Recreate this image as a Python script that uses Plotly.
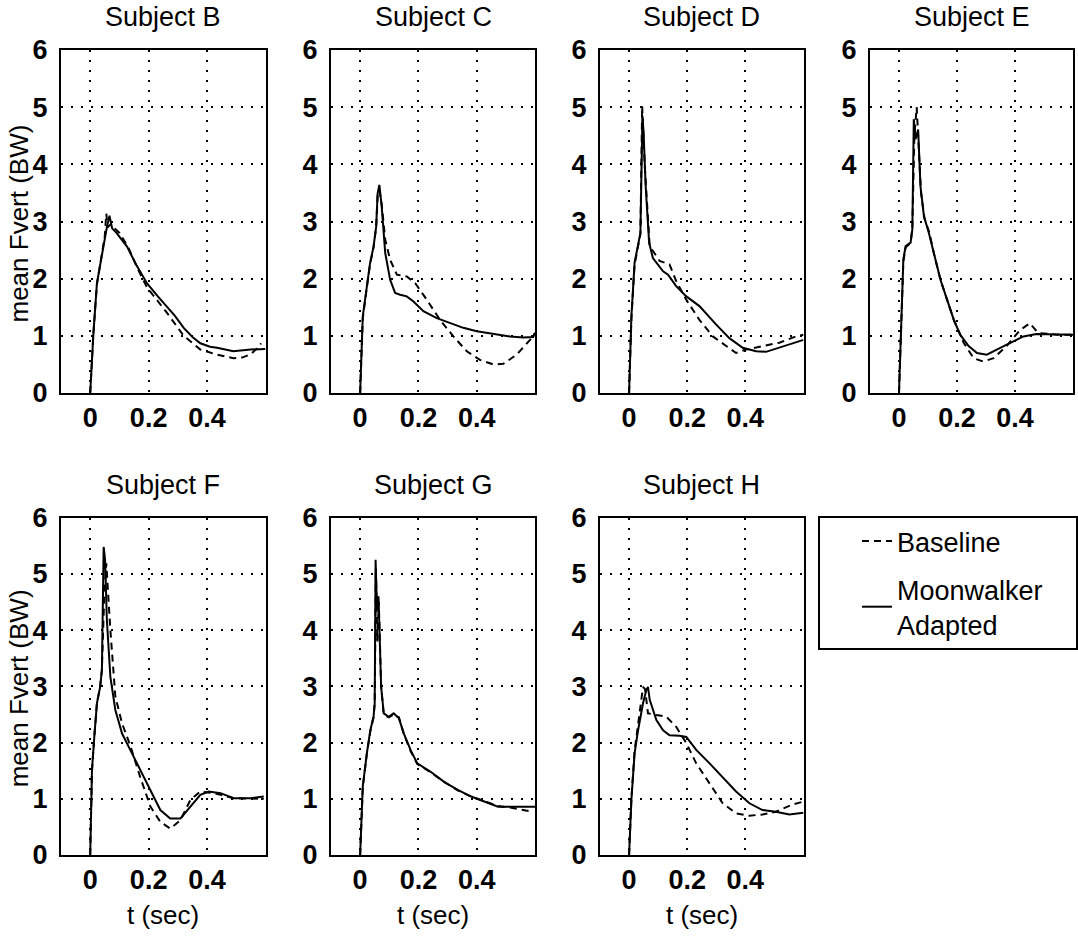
import plotly.graph_objects as go

# ---------------- data ----------------
subjects = ["B", "C", "D", "E", "F", "G", "H"]
x_ticks = [0, 0.2, 0.4]
x_ticktext = ["0", "0.2", "0.4"]
y_ticks = [0, 1, 2, 3, 4, 5, 6]

B_moon_t = [0, 0.011, 0.023, 0.04, 0.057, 0.066, 0.075, 0.09, 0.126, 0.16, 0.194, 0.23, 0.263, 0.29, 0.32, 0.35, 0.377, 0.41, 0.434, 0.49, 0.549, 0.6]
B_moon_y = [0, 1.05, 1.92, 2.45, 2.9, 3.1, 2.88, 2.8, 2.56, 2.22, 1.92, 1.7, 1.51, 1.35, 1.14, 0.98, 0.87, 0.81, 0.79, 0.73, 0.76, 0.77]
B_base_t = [0, 0.011, 0.023, 0.04, 0.05, 0.055, 0.06, 0.07, 0.1, 0.13, 0.16, 0.194, 0.23, 0.263, 0.32, 0.377, 0.434, 0.49, 0.52, 0.55, 0.571, 0.585]
B_base_y = [0, 1.05, 1.9, 2.4, 2.75, 3.14, 2.9, 2.95, 2.8, 2.55, 2.2, 1.85, 1.62, 1.4, 1.0, 0.76, 0.67, 0.61, 0.62, 0.68, 0.78, 0.87]

C_moon_t = [0, 0.009, 0.023, 0.034, 0.046, 0.055, 0.06, 0.066, 0.074, 0.086, 0.103, 0.12, 0.137, 0.16, 0.183, 0.217, 0.263, 0.309, 0.354, 0.4, 0.469, 0.514, 0.56, 0.594, 0.6]
C_moon_y = [0, 1.34, 1.86, 2.27, 2.56, 2.91, 3.49, 3.64, 3.26, 2.45, 1.98, 1.75, 1.72, 1.69, 1.6, 1.43, 1.31, 1.22, 1.14, 1.08, 1.02, 0.99, 0.97, 0.98, 1.05]
C_base_t = [0, 0.009, 0.023, 0.034, 0.046, 0.055, 0.06, 0.066, 0.074, 0.086, 0.103, 0.126, 0.16, 0.189, 0.229, 0.274, 0.32, 0.366, 0.411, 0.457, 0.491, 0.537, 0.583, 0.6]
C_base_y = [0, 1.3, 1.85, 2.25, 2.55, 2.9, 3.45, 3.55, 3.3, 2.68, 2.33, 2.07, 2.04, 1.92, 1.63, 1.28, 0.99, 0.73, 0.58, 0.5, 0.51, 0.67, 0.93, 1.05]

D_moon_t = [0, 0.008, 0.019, 0.031, 0.039, 0.046, 0.05, 0.057, 0.069, 0.082, 0.099, 0.117, 0.134, 0.162, 0.197, 0.242, 0.299, 0.345, 0.391, 0.437, 0.471, 0.517, 0.574, 0.6]
D_moon_y = [0, 1.34, 2.28, 2.57, 2.8, 4.85, 4.55, 3.62, 2.63, 2.36, 2.25, 2.13, 2.07, 1.87, 1.69, 1.52, 1.2, 0.96, 0.79, 0.73, 0.72, 0.79, 0.88, 0.93]
D_base_t = [0, 0.008, 0.019, 0.031, 0.039, 0.045, 0.054, 0.071, 0.105, 0.139, 0.162, 0.197, 0.242, 0.288, 0.334, 0.368, 0.402, 0.459, 0.517, 0.574, 0.6]
D_base_y = [0, 1.3, 2.25, 2.55, 2.78, 5.02, 3.97, 2.57, 2.31, 2.25, 1.96, 1.63, 1.28, 0.99, 0.82, 0.7, 0.76, 0.82, 0.88, 0.99, 1.02]

E_moon_t = [0, 0.006, 0.015, 0.023, 0.04, 0.046, 0.051, 0.057, 0.066, 0.074, 0.086, 0.103, 0.12, 0.143, 0.166, 0.189, 0.211, 0.24, 0.269, 0.303, 0.337, 0.383, 0.429, 0.474, 0.543, 0.6]
E_moon_y = [0, 1.05, 2.34, 2.57, 2.63, 2.86, 4.79, 4.44, 4.61, 3.62, 3.09, 2.8, 2.45, 1.98, 1.63, 1.28, 1.02, 0.82, 0.7, 0.67, 0.76, 0.88, 0.99, 1.03, 1.02, 1.02]
E_base_t = [0, 0.006, 0.015, 0.023, 0.04, 0.046, 0.053, 0.061, 0.068, 0.076, 0.088, 0.105, 0.12, 0.143, 0.166, 0.189, 0.223, 0.257, 0.291, 0.326, 0.371, 0.417, 0.451, 0.48, 0.543, 0.6]
E_base_y = [0, 1.0, 2.3, 2.55, 2.62, 2.9, 4.5, 5.0, 4.3, 3.5, 3.05, 2.8, 2.45, 1.98, 1.63, 1.28, 0.88, 0.61, 0.55, 0.61, 0.82, 1.1, 1.22, 1.05, 1.02, 1.02]

F_moon_t = [0, 0.006, 0.014, 0.023, 0.034, 0.04, 0.046, 0.051, 0.057, 0.069, 0.086, 0.109, 0.137, 0.171, 0.206, 0.24, 0.274, 0.309, 0.343, 0.377, 0.406, 0.446, 0.491, 0.549, 0.594]
F_moon_y = [0, 1.51, 2.1, 2.7, 2.99, 3.29, 5.48, 5.25, 4.18, 3.17, 2.58, 2.16, 1.87, 1.51, 1.16, 0.8, 0.65, 0.65, 0.86, 1.07, 1.13, 1.1, 1.01, 1.01, 1.04]
F_base_t = [0, 0.006, 0.014, 0.023, 0.034, 0.04, 0.048, 0.055, 0.069, 0.086, 0.109, 0.137, 0.171, 0.206, 0.24, 0.274, 0.309, 0.343, 0.377, 0.423, 0.491, 0.594]
F_base_y = [0, 1.5, 2.1, 2.7, 3.0, 3.3, 4.6, 5.19, 4.0, 2.82, 2.34, 1.95, 1.39, 0.86, 0.59, 0.47, 0.62, 0.98, 1.13, 1.1, 1.01, 1.0]

G_moon_t = [0, 0.009, 0.023, 0.035, 0.046, 0.05, 0.053, 0.058, 0.063, 0.072, 0.081, 0.098, 0.115, 0.133, 0.15, 0.173, 0.196, 0.242, 0.288, 0.335, 0.381, 0.427, 0.473, 0.519, 0.6]
G_moon_y = [0, 1.22, 1.81, 2.22, 2.46, 2.7, 5.25, 4.36, 4.6, 2.99, 2.52, 2.46, 2.52, 2.43, 2.16, 1.87, 1.63, 1.48, 1.3, 1.16, 1.04, 0.95, 0.86, 0.86, 0.86]
G_base_t = [0, 0.009, 0.023, 0.035, 0.046, 0.05, 0.054, 0.059, 0.064, 0.072, 0.081, 0.098, 0.115, 0.133, 0.15, 0.173, 0.196, 0.242, 0.288, 0.335, 0.381, 0.427, 0.473, 0.519, 0.56, 0.59]
G_base_y = [0, 1.2, 1.8, 2.2, 2.45, 2.7, 5.1, 3.8, 4.5, 3.0, 2.5, 2.45, 2.5, 2.45, 2.15, 1.85, 1.62, 1.47, 1.3, 1.15, 1.04, 0.95, 0.87, 0.84, 0.8, 0.77]

H_moon_t = [0, 0.008, 0.019, 0.031, 0.048, 0.059, 0.065, 0.071, 0.094, 0.117, 0.139, 0.174, 0.197, 0.231, 0.277, 0.322, 0.368, 0.414, 0.459, 0.505, 0.551, 0.6]
H_moon_y = [0, 0.98, 1.81, 2.22, 2.7, 2.93, 2.99, 2.76, 2.4, 2.22, 2.13, 2.12, 2.1, 1.87, 1.63, 1.39, 1.13, 0.92, 0.8, 0.77, 0.72, 0.75]
H_base_t = [0, 0.008, 0.019, 0.031, 0.048, 0.055, 0.065, 0.094, 0.128, 0.162, 0.197, 0.231, 0.277, 0.322, 0.368, 0.414, 0.459, 0.505, 0.563, 0.6]
H_base_y = [0, 1.0, 1.85, 2.3, 2.99, 2.95, 2.52, 2.49, 2.46, 2.28, 1.99, 1.63, 1.28, 0.92, 0.74, 0.7, 0.72, 0.77, 0.9, 0.95]

series = {
    "B": (B_base_t, B_base_y, B_moon_t, B_moon_y),
    "C": (C_base_t, C_base_y, C_moon_t, C_moon_y),
    "D": (D_base_t, D_base_y, D_moon_t, D_moon_y),
    "E": (E_base_t, E_base_y, E_moon_t, E_moon_y),
    "F": (F_base_t, F_base_y, F_moon_t, F_moon_y),
    "G": (G_base_t, G_base_y, G_moon_t, G_moon_y),
    "H": (H_base_t, H_base_y, H_moon_t, H_moon_y),
}

# ---------------- layout geometry (pixels) ----------------
W, H = 1078, 941
col_px = [(61, 265.5), (331, 535), (600, 803.5), (870, 1073)]
row_px = [(50, 393), (517.7, 855)]

FONT = "Liberation Sans, Arial, Helvetica, sans-serif"
FS = 27

fig = go.Figure()
layout = dict(
    width=W, height=H,
    margin=dict(l=0, r=0, t=0, b=0, pad=0, autoexpand=False),
    paper_bgcolor="white", plot_bgcolor="white",
    font=dict(family=FONT, size=FS, color="black"),
    showlegend=True,
)
annotations = []
shapes = []

for i, s in enumerate(subjects):
    r, c = divmod(i, 4)
    x0, x1 = col_px[c]
    y0, y1 = row_px[r]
    n = i + 1
    xa = "x" if n == 1 else f"x{n}"
    ya = "y" if n == 1 else f"y{n}"
    bt, by, mt, my = series[s]
    fig.add_trace(go.Scatter(x=bt, y=by, mode="lines", xaxis=xa, yaxis=ya,
                             name="Baseline", legendgroup="base", showlegend=(i == 0),
                             line=dict(color="black", width=2, dash="7px,5px")))
    fig.add_trace(go.Scatter(x=mt, y=my, mode="lines", xaxis=xa, yaxis=ya,
                             name="Moonwalker<br>Adapted", legendgroup="moon", showlegend=(i == 0),
                             line=dict(color="black", width=2)))
    common = dict(showline=True, mirror=True, linecolor="black", linewidth=2,
                  showgrid=True, gridcolor="black", gridwidth=1.6, griddash="2px,8px",
                  zeroline=False, ticks="",
                  tickfont=dict(family=FONT, size=FS, color="black", weight="bold"))
    layout["xaxis" if n == 1 else f"xaxis{n}"] = dict(
        domain=[x0 / W, x1 / W], anchor=ya, range=[-0.1, 0.6],
        tickvals=x_ticks, ticktext=x_ticktext, ticklabelstandoff=0, **common)
    layout["yaxis" if n == 1 else f"yaxis{n}"] = dict(
        domain=[1 - y1 / H, 1 - y0 / H], anchor=xa, range=[0, 6],
        tickvals=y_ticks, ticklabelstandoff=6, **common)
    annotations.append(dict(text=f"Subject {s}", xref="paper", yref="paper",
                            x=(x0 + x1) / 2 / W, y=1 - (y0 - 33) / H,
                            xanchor="center", yanchor="middle", showarrow=False,
                            font=dict(family=FONT, size=FS, color="black")))
    if c == 0:
        annotations.append(dict(text="mean Fvert (BW)", xref="paper", yref="paper",
                                x=19 / W, y=1 - ((y0 + y1) / 2 + 2) / H, textangle=-90,
                                xanchor="center", yanchor="middle", showarrow=False,
                                font=dict(family=FONT, size=26, color="black")))
    if r == 1:
        annotations.append(dict(text="t (sec)", xref="paper", yref="paper",
                                x=(x0 + x1) / 2 / W, y=1 - 915 / H,
                                xanchor="center", yanchor="middle", showarrow=False,
                                font=dict(family=FONT, size=26, color="black")))

# legend box
shapes.append(dict(type="rect", xref="paper", yref="paper",
                   x0=819 / W, x1=1077 / W, y0=1 - 649 / H, y1=1 - 517 / H,
                   line=dict(color="black", width=2), fillcolor="rgba(0,0,0,0)"))

layout["legend"] = dict(x=857 / W, y=1 - 517 / H, xanchor="left", yanchor="top",
                        bgcolor="rgba(0,0,0,0)", borderwidth=0, itemwidth=30,
                        tracegroupgap=10,
                        font=dict(family=FONT, size=FS, color="black"))
layout["annotations"] = annotations
layout["shapes"] = shapes
fig.update_layout(**layout)
fig.write_html("out.html")
